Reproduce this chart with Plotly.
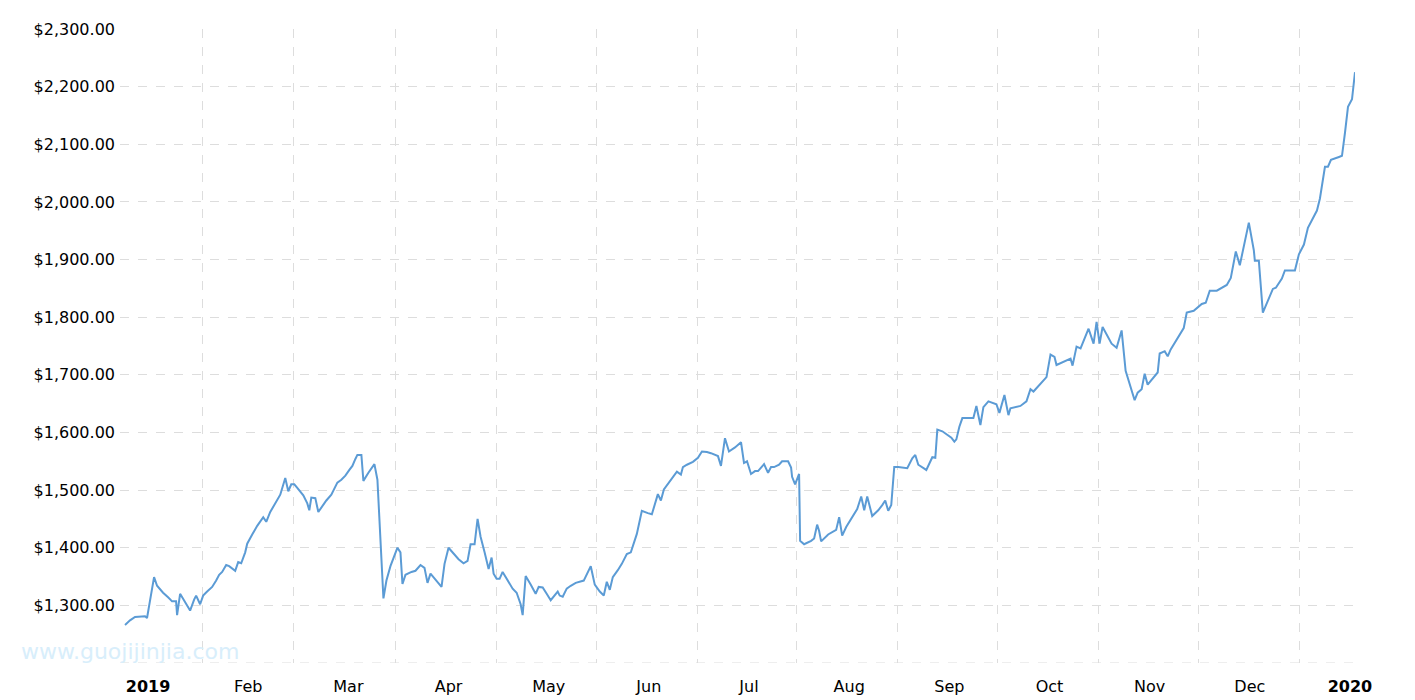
import plotly.graph_objects as go

# x = month index (0 = Jan 2019 label, 12 = 2020 label), y = price
month_idx = [-0.23,-0.18,-0.13,-0.08,-0.03,-0.01,0.02,0.06,0.09,0.15,0.20,0.24,0.28,0.29,0.32,0.38,0.42,0.46,0.48,0.52,
 0.55,0.59,0.64,0.68,0.71,0.74,0.78,0.81,0.87,0.90,0.93,0.97,0.99,1.04,1.09,1.15,1.18,1.22,1.27,1.32,
 1.37,1.40,1.43,1.46,1.49,1.55,1.59,1.61,1.63,1.67,1.70,1.74,1.78,1.83,1.85,1.89,1.93,1.97,2.01,2.04,
 2.07,2.09,2.13,2.15,2.20,2.26,2.29,2.35,2.38,2.42,2.49,2.52,2.54,2.57,2.63,2.67,2.72,2.76,2.79,2.82,
 2.93,2.96,3.00,3.10,3.15,3.19,3.22,3.26,3.29,3.32,3.36,3.40,3.43,3.45,3.48,3.51,3.54,3.60,3.64,3.68,
 3.72,3.74,3.77,3.82,3.87,3.90,3.94,3.98,4.02,4.09,4.11,4.14,4.18,4.22,4.27,4.35,4.38,4.42,4.46,4.51,
 4.55,4.58,4.61,4.64,4.69,4.73,4.78,4.82,4.88,4.93,4.99,5.03,5.09,5.12,5.15,5.19,5.23,5.28,5.32,5.34,
 5.38,5.44,5.49,5.53,5.58,5.62,5.69,5.72,5.76,5.80,5.86,5.92,5.95,5.98,6.02,6.06,6.09,6.15,6.19,6.22,
 6.25,6.30,6.33,6.39,6.42,6.43,6.46,6.50,6.51,6.55,6.62,6.65,6.68,6.70,6.72,6.79,6.87,6.90,6.93,6.97,
 7.08,7.12,7.15,7.18,7.23,7.29,7.33,7.36,7.39,7.42,7.45,7.49,7.58,7.63,7.66,7.69,7.77,7.83,7.86,7.88,
 7.93,7.98,8.02,8.05,8.07,8.10,8.13,8.24,8.27,8.31,8.34,8.39,8.47,8.50,8.55,8.59,8.61,8.71,8.77,8.81,
 8.84,8.97,9.01,9.05,9.07,9.21,9.23,9.27,9.31,9.39,9.44,9.47,9.50,9.53,9.62,9.67,9.72,9.76,9.85,9.88,
 9.92,9.95,9.98,10.08,10.10,10.15,10.18,10.21,10.34,10.37,10.44,10.52,10.56,10.60,10.67,10.77,10.81,10.86,10.90,10.99,
 11.04,11.05,11.09,11.13,11.23,11.26,11.32,11.35,11.45,11.49,11.54,11.58,11.67,11.70,11.75,11.78,11.81,11.89,11.92,11.95,
 11.98,12.02,12.05]
price = [1266,1274,1280,1281,1281,1278,1312,1349,1334,1322,1314,1307,1307,1283,1320,1302,1291,1310,1317,1302,
 1317,1324,1332,1343,1353,1358,1370,1368,1360,1375,1373,1392,1407,1423,1438,1453,1445,1462,1477,1492,
 1521,1498,1510,1510,1504,1491,1477,1465,1487,1486,1462,1472,1482,1492,1499,1513,1518,1525,1535,1542,
 1554,1561,1561,1516,1530,1545,1518,1312,1343,1368,1400,1392,1337,1353,1358,1360,1370,1365,1339,1355,
 1332,1372,1400,1380,1373,1377,1406,1406,1450,1419,1392,1363,1383,1355,1346,1346,1358,1339,1329,1322,
 1302,1283,1351,1336,1320,1332,1331,1320,1309,1324,1317,1315,1329,1334,1339,1343,1353,1368,1336,1324,
 1317,1341,1327,1349,1361,1372,1389,1392,1424,1464,1460,1458,1493,1482,1501,1510,1521,1532,1527,1540,
 1544,1549,1556,1567,1566,1564,1559,1542,1590,1567,1574,1583,1547,1550,1528,1533,1533,1545,1530,1540,
 1540,1544,1550,1550,1539,1523,1510,1528,1412,1406,1412,1416,1440,1429,1411,1423,1431,1453,1421,1436,
 1467,1489,1465,1489,1455,1465,1474,1482,1464,1474,1540,1540,1538,1555,1561,1544,1535,1557,1556,1605,
 1602,1596,1591,1584,1588,1610,1625,1625,1646,1613,1644,1654,1649,1634,1665,1630,1642,1646,1654,1675,
 1671,1696,1735,1731,1717,1728,1716,1749,1746,1780,1754,1792,1754,1783,1754,1747,1777,1707,1656,1669,
 1675,1702,1683,1704,1737,1741,1732,1744,1781,1808,1811,1823,1825,1846,1846,1856,1868,1914,1890,1964,
 1916,1898,1898,1808,1849,1851,1867,1881,1881,1909,1926,1955,1985,2006,2061,2061,2073,2078,2080,2120,
 2165,2178,2225]

tick_labels = ["<b>2019</b>","Feb","Mar","Apr","May","Jun","Jul","Aug","Sep","Oct","Nov","Dec","<b>2020</b>"]
y_ticks = list(range(1300, 2301, 100))

fig = go.Figure(go.Scatter(x=month_idx, y=price, mode="lines",
                           line=dict(color="#5b9bd5", width=2), hoverinfo="skip"))

grid_px = [202,293,395,496,596,697,797,898,998,1099,1199,1300]
fig.update_layout(
    width=1415, height=700, paper_bgcolor="white", plot_bgcolor="white",
    margin=dict(l=112, r=68, t=12, b=43), showlegend=False,
    font=dict(family="DejaVu Sans", size=16, color="#000"),
    xaxis=dict(range=[-0.28, 12.05], tickvals=list(range(13)), ticktext=tick_labels,
               showgrid=False, zeroline=False, showline=False, ticks="",
               ticklabelstandoff=12,
               minor=dict(tickvals=[(p - 148) / 100.17 for p in grid_px], showgrid=True,
                          gridcolor="#dddddd", griddash="dash", gridwidth=1)),
    yaxis=dict(range=[1200, 2300], tickvals=y_ticks,
               ticktext=["${:,.2f}".format(v) for v in y_ticks],
               showgrid=True, gridcolor="#dddddd", griddash="dash", zeroline=False,
               ticks="", ticklabelstandoff=4),
)
fig.add_shape(type="line", xref="paper", yref="y", x0=0, x1=1, y0=1200, y1=1200,
              line=dict(color="#dddddd", dash="dash", width=1))
fig.add_annotation(text="www.guojijinjia.com", xref="paper", yref="paper", x=-0.082, y=0.018,
                   xanchor="left", yanchor="middle", showarrow=False,
                   font=dict(family="DejaVu Sans", size=22, color="#d8eefb"))
fig.write_html("out.html")
